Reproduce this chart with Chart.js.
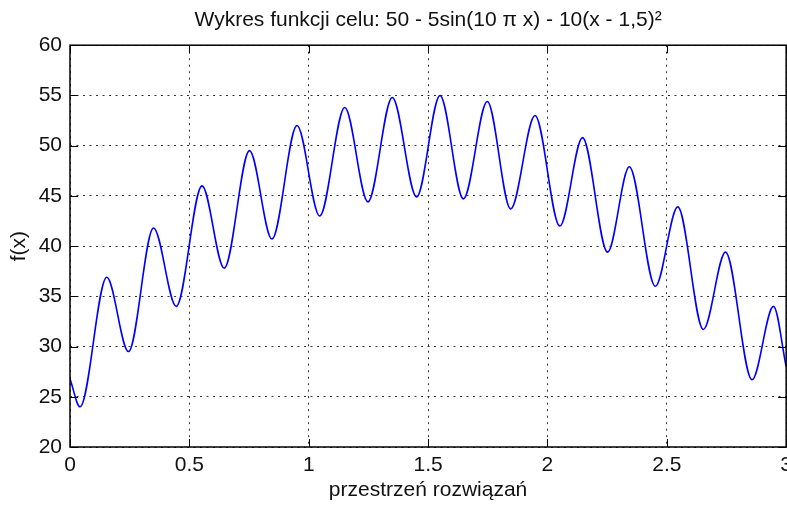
<!DOCTYPE html>
<html>
<head>
<meta charset="utf-8">
<script src="https://cdn.jsdelivr.net/npm/chart.js@4"></script>
<style>
  html, body { margin: 0; padding: 0; background: #fff; overflow: hidden; }
  #chart { display: block; }
</style>
</head>
<body>
<canvas id="chart" width="798" height="506"></canvas>
<script>
// Values: extrema of the curve plus both ends
const xValues = [0, 0.042, 0.154, 0.245, 0.35, 0.445, 0.553, 0.646, 0.752, 0.846, 0.951,
                 1.046, 1.151, 1.248, 1.35, 1.452, 1.55, 1.648, 1.748, 1.846, 1.948,
                 2.052, 2.147, 2.252, 2.343, 2.452, 2.546, 2.653, 2.746, 2.857, 2.947, 3.0];
const fValues = [26.8, 24.0, 36.9, 29.5, 41.8, 34.0, 46.0, 37.8, 49.5, 40.7, 52.0,
                 43.0, 53.8, 44.4, 54.8, 44.9, 55.0, 44.7, 54.4, 43.7, 53.0,
                 42.0, 50.8, 39.4, 47.9, 36.0, 43.9, 31.7, 39.4, 26.7, 34.0, 28.0];
const xTicks = [0, 0.5, 1, 1.5, 2, 2.5, 3];
const yTicks = [20, 25, 30, 35, 40, 45, 50, 55, 60];

const FONT = '"Liberation Sans", Arial, sans-serif';
const TEXT = '#111';

// MATLAB style box with inward ticks on all sides
const framePlugin = {
    id: 'frame',
    afterDatasetsDraw(chart) {
        const { ctx, chartArea: a, scales } = chart;
        const len = 8;
        ctx.save();
        ctx.strokeStyle = '#000';
        ctx.lineWidth = 1;
        ctx.beginPath();
        xTicks.forEach(v => {
            const px = Math.round(scales.x.getPixelForValue(v)) + 0.5;
            ctx.moveTo(px, a.bottom); ctx.lineTo(px, a.bottom - len);
            ctx.moveTo(px, a.top); ctx.lineTo(px, a.top + len);
        });
        yTicks.forEach(v => {
            const py = Math.round(scales.y.getPixelForValue(v)) + 0.5;
            ctx.moveTo(a.left, py); ctx.lineTo(a.left + len, py);
            ctx.moveTo(a.right, py); ctx.lineTo(a.right - len, py);
        });
        ctx.stroke();
        ctx.lineWidth = 1.5;
        ctx.strokeRect(a.left, a.top, a.right - a.left, a.bottom - a.top);
        ctx.restore();
    }
};

const ctx = document.getElementById('chart').getContext('2d');
new Chart(ctx, {
    type: 'line',
    data: {
        datasets: [{
            data: xValues.map((x, i) => ({ x: x, y: fValues[i] })),
            borderColor: '#0000ff',
            borderWidth: 1.6,
            pointRadius: 0,
            fill: false,
            cubicInterpolationMode: 'monotone'
        }]
    },
    options: {
        responsive: false,
        animation: false,
        layout: { padding: 0 },
        plugins: {
            legend: { display: false },
            tooltip: { enabled: false },
            title: {
                display: true,
                fullSize: false,
                text: 'Wykres funkcji celu: 50 - 5sin(10 \u03c0 x) - 10(x - 1,5)\u00b2',
                color: TEXT,
                font: { family: FONT, size: 21, weight: 'normal' },
                padding: { top: 8, bottom: 12 }
            }
        },
        scales: {
            x: {
                type: 'linear',
                min: 0,
                max: 3,
                afterBuildTicks: s => { s.ticks = xTicks.map(v => ({ value: v })); },
                afterFit: s => { s.height = 59; },
                grid: { color: '#333', lineWidth: 1, drawTicks: false },
                border: { display: false, dash: [2, 4.5] },
                ticks: {
                    color: TEXT, font: { family: FONT, size: 21 }, padding: 6, maxRotation: 0,
                    callback: v => String(v)
                },
                title: {
                    display: true,
                    text: 'przestrzeń rozwiązań',
                    color: TEXT,
                    font: { family: FONT, size: 21 },
                    padding: { top: 0, bottom: 3 }
                }
            },
            y: {
                min: 20,
                max: 60,
                afterBuildTicks: s => { s.ticks = yTicks.map(v => ({ value: v })); },
                afterFit: s => { s.width = 70; },
                grid: { color: '#333', lineWidth: 1, drawTicks: false },
                border: { display: false, dash: [2, 4.5] },
                ticks: {
                    color: TEXT, font: { family: FONT, size: 21 }, padding: 8,
                    callback: v => String(v)
                },
                title: {
                    display: true,
                    text: 'f(x)',
                    color: TEXT,
                    font: { family: FONT, size: 21 },
                    padding: { top: 7, bottom: 0 }
                }
            }
        }
    },
    plugins: [framePlugin]
});
</script>
</body>
</html>
